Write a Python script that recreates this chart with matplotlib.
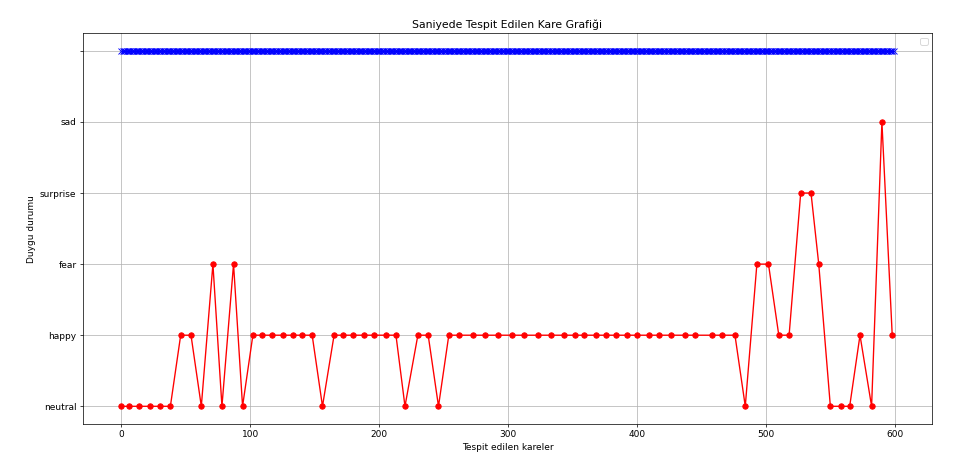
import matplotlib
matplotlib.use("Agg")
from matplotlib import pyplot as plt

# y categories, bottom to top (top one has an empty label)
emotions = ["neutral", "happy", "fear", "surprise", "sad", ""]

# red series: detected frames and emotion at each one
frames = [0, 6, 14, 22, 30, 38, 46, 54, 62, 71, 78, 87, 94, 102, 109, 117,
          125, 133, 140, 148, 156, 165, 172, 180, 188, 196, 205, 213, 220,
          230, 238, 246, 254, 262, 273, 282, 292, 303, 312, 323, 333, 343,
          352, 359, 368, 376, 384, 392, 400, 409, 417, 426, 437, 445, 458,
          466, 476, 484, 493, 502, 510, 518, 527, 535, 541, 550, 558, 565,
          573, 582, 590, 598]
labels = ["neutral"] * 6 + ["happy", "happy", "neutral", "fear", "neutral",
          "fear", "neutral"] + ["happy"] * 7 + ["neutral"] + ["happy"] * 7 + \
         ["neutral", "happy", "happy", "neutral"] + ["happy"] * 25 + \
         ["neutral", "fear", "fear", "happy", "happy", "surprise", "surprise",
          "fear", "neutral", "neutral", "neutral", "happy", "neutral", "sad",
          "happy"]

# blue series: every frame of the video, all on the top (blank) level
all_frames = list(range(0, 600))
all_labels = [""] * len(all_frames)

y_red = [emotions.index(l) for l in labels]
y_blue = [emotions.index(l) for l in all_labels]

fig = plt.figure(figsize=(974 / 65, 466 / 65), dpi=65)
plt.subplots_adjust(left=0.085, right=0.957, bottom=0.09, top=0.929)

plt.plot(all_frames, y_blue, "bx-")
plt.plot(frames, y_red, "ro-")

plt.yticks(range(len(emotions)), emotions)
plt.title("Saniyede Tespit Edilen Kare Grafiği")
plt.xlabel("Tespit edilen kareler")
plt.ylabel("Duygu durumu")
plt.grid(True)
plt.legend()

plt.savefig("out.png", dpi=65)
